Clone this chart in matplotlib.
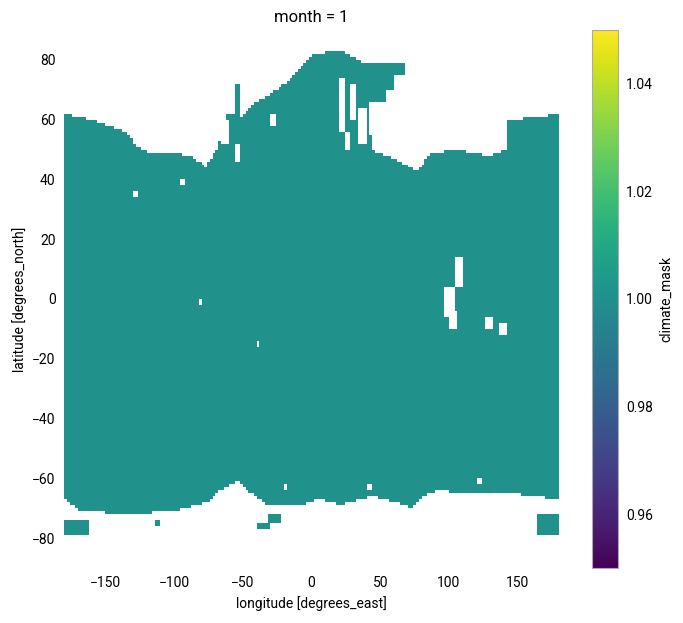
import numpy as np
import matplotlib.pyplot as plt

plt.rcParams['font.family'] = ['Roboto', 'DejaVu Sans']

# northern edge of the mask (lon, lat)
north_lon = [-180, -159, -134, -127, -117, -103, -87, -77, -68, -61, -57, -55, -53, -51, -43, -29,
             -14, 0, 22, 39, 41, 44, 60, 72, 77, 87, 106, 130, 140, 142, 143, 165, 180]
north_lat = [62, 60, 56, 51, 49, 49, 48, 44, 51, 62, 62, 72, 72, 61, 65, 69,
             74, 82, 83, 79, 66, 50, 47, 44, 43, 49, 50, 48, 50, 50, 60, 61, 62]
# southern edge of the mask (lon, lat)
south_lon = [-180, -168, -132, -100, -76, -66, -54, -47, -32, -8, 6, 21, 43, 60, 74, 81, 93, 108, 142, 180]
south_lat = [-67, -71, -72, -71, -68, -64, -61, -64, -69, -69, -67, -69, -66, -68, -70, -66, -64, -65, -65, -67]
# patches of valid data outside the edges (lon0, lon1, lat0, lat1)
islands = [(-180, -163, -79, -74), (165, 180, -79, -72), (-40, -30, -77, -75),
           (-32, -22, -75, -72), (-114, -110, -76, -74),
           (40, 54, 66, 79), (54, 68, 75, 79), (54, 60, 70, 75)]
# holes inside the mask (lon0, lon1, lat0, lat1)
holes = [(20, 24, 56, 74), (28, 32, 60, 72), (34, 40, 52, 64), (24, 28, 50, 56),
         (-56, -52, 46, 52), (-30, -26, 58, 62), (-66, -60, 52, 60),
         (96, 104, -6, 4), (104, 110, 4, 14), (100, 106, -10, -4), (126, 132, -10, -6),
         (136, 142, -12, -8), (-82, -80, -2, 0), (-40, -38, -16, -14),
         (108, 118, 52, 56), (140, 142, 54, 58), (-96, -92, 38, 40),
         (-130, -126, 34, 36), (-20, -18, -64, -62), (40, 44, -64, -62), (120, 124, -62, -60)]

lon = np.arange(-179, 180, 2.0)
lat = np.arange(-89.5, 90, 1.0)
LON, LAT = np.meshgrid(lon, lat)
top = np.interp(LON, north_lon, north_lat)
bot = np.interp(LON, south_lon, south_lat)
valid = (LAT <= top) & (LAT >= bot)
for x0, x1, y0, y1 in islands:
    valid |= (LON >= x0) & (LON <= x1) & (LAT >= y0) & (LAT <= y1)
for x0, x1, y0, y1 in holes:
    valid &= ~((LON >= x0) & (LON <= x1) & (LAT >= y0) & (LAT <= y1))
mask = np.where(valid, 1.0, np.nan)

fig = plt.figure(figsize=(6.83, 6.23), dpi=100)
ax = fig.add_axes([64 / 683, 55 / 623, 495 / 683, 538 / 623])
cax = fig.add_axes([592 / 683, 55 / 623, 26 / 683, 538 / 623])
mesh = ax.pcolormesh(lon, lat, mask, cmap='viridis', vmin=0.95, vmax=1.05, shading='nearest')
ax.set_xlim(-180, 180)
ax.set_ylim(-90, 90)
for s in ax.spines.values():
    s.set_visible(False)
ax.tick_params(length=0, pad=6)
ax.set_xticks([-150, -100, -50, 0, 50, 100, 150])
ax.set_yticks([-80, -60, -40, -20, 0, 20, 40, 60, 80])
ax.set_xlabel('longitude [degrees_east]')
ax.set_ylabel('latitude [degrees_north]')
ax.set_title('month = 1')
cb = fig.colorbar(mesh, cax=cax)
cb.set_ticks([0.96, 0.98, 1.00, 1.02, 1.04])
cb.ax.tick_params(length=0, pad=6)
cb.set_label('climate_mask')
cb.outline.set_edgecolor('#aaaaaa')
fig.savefig('out.png', dpi=100)
